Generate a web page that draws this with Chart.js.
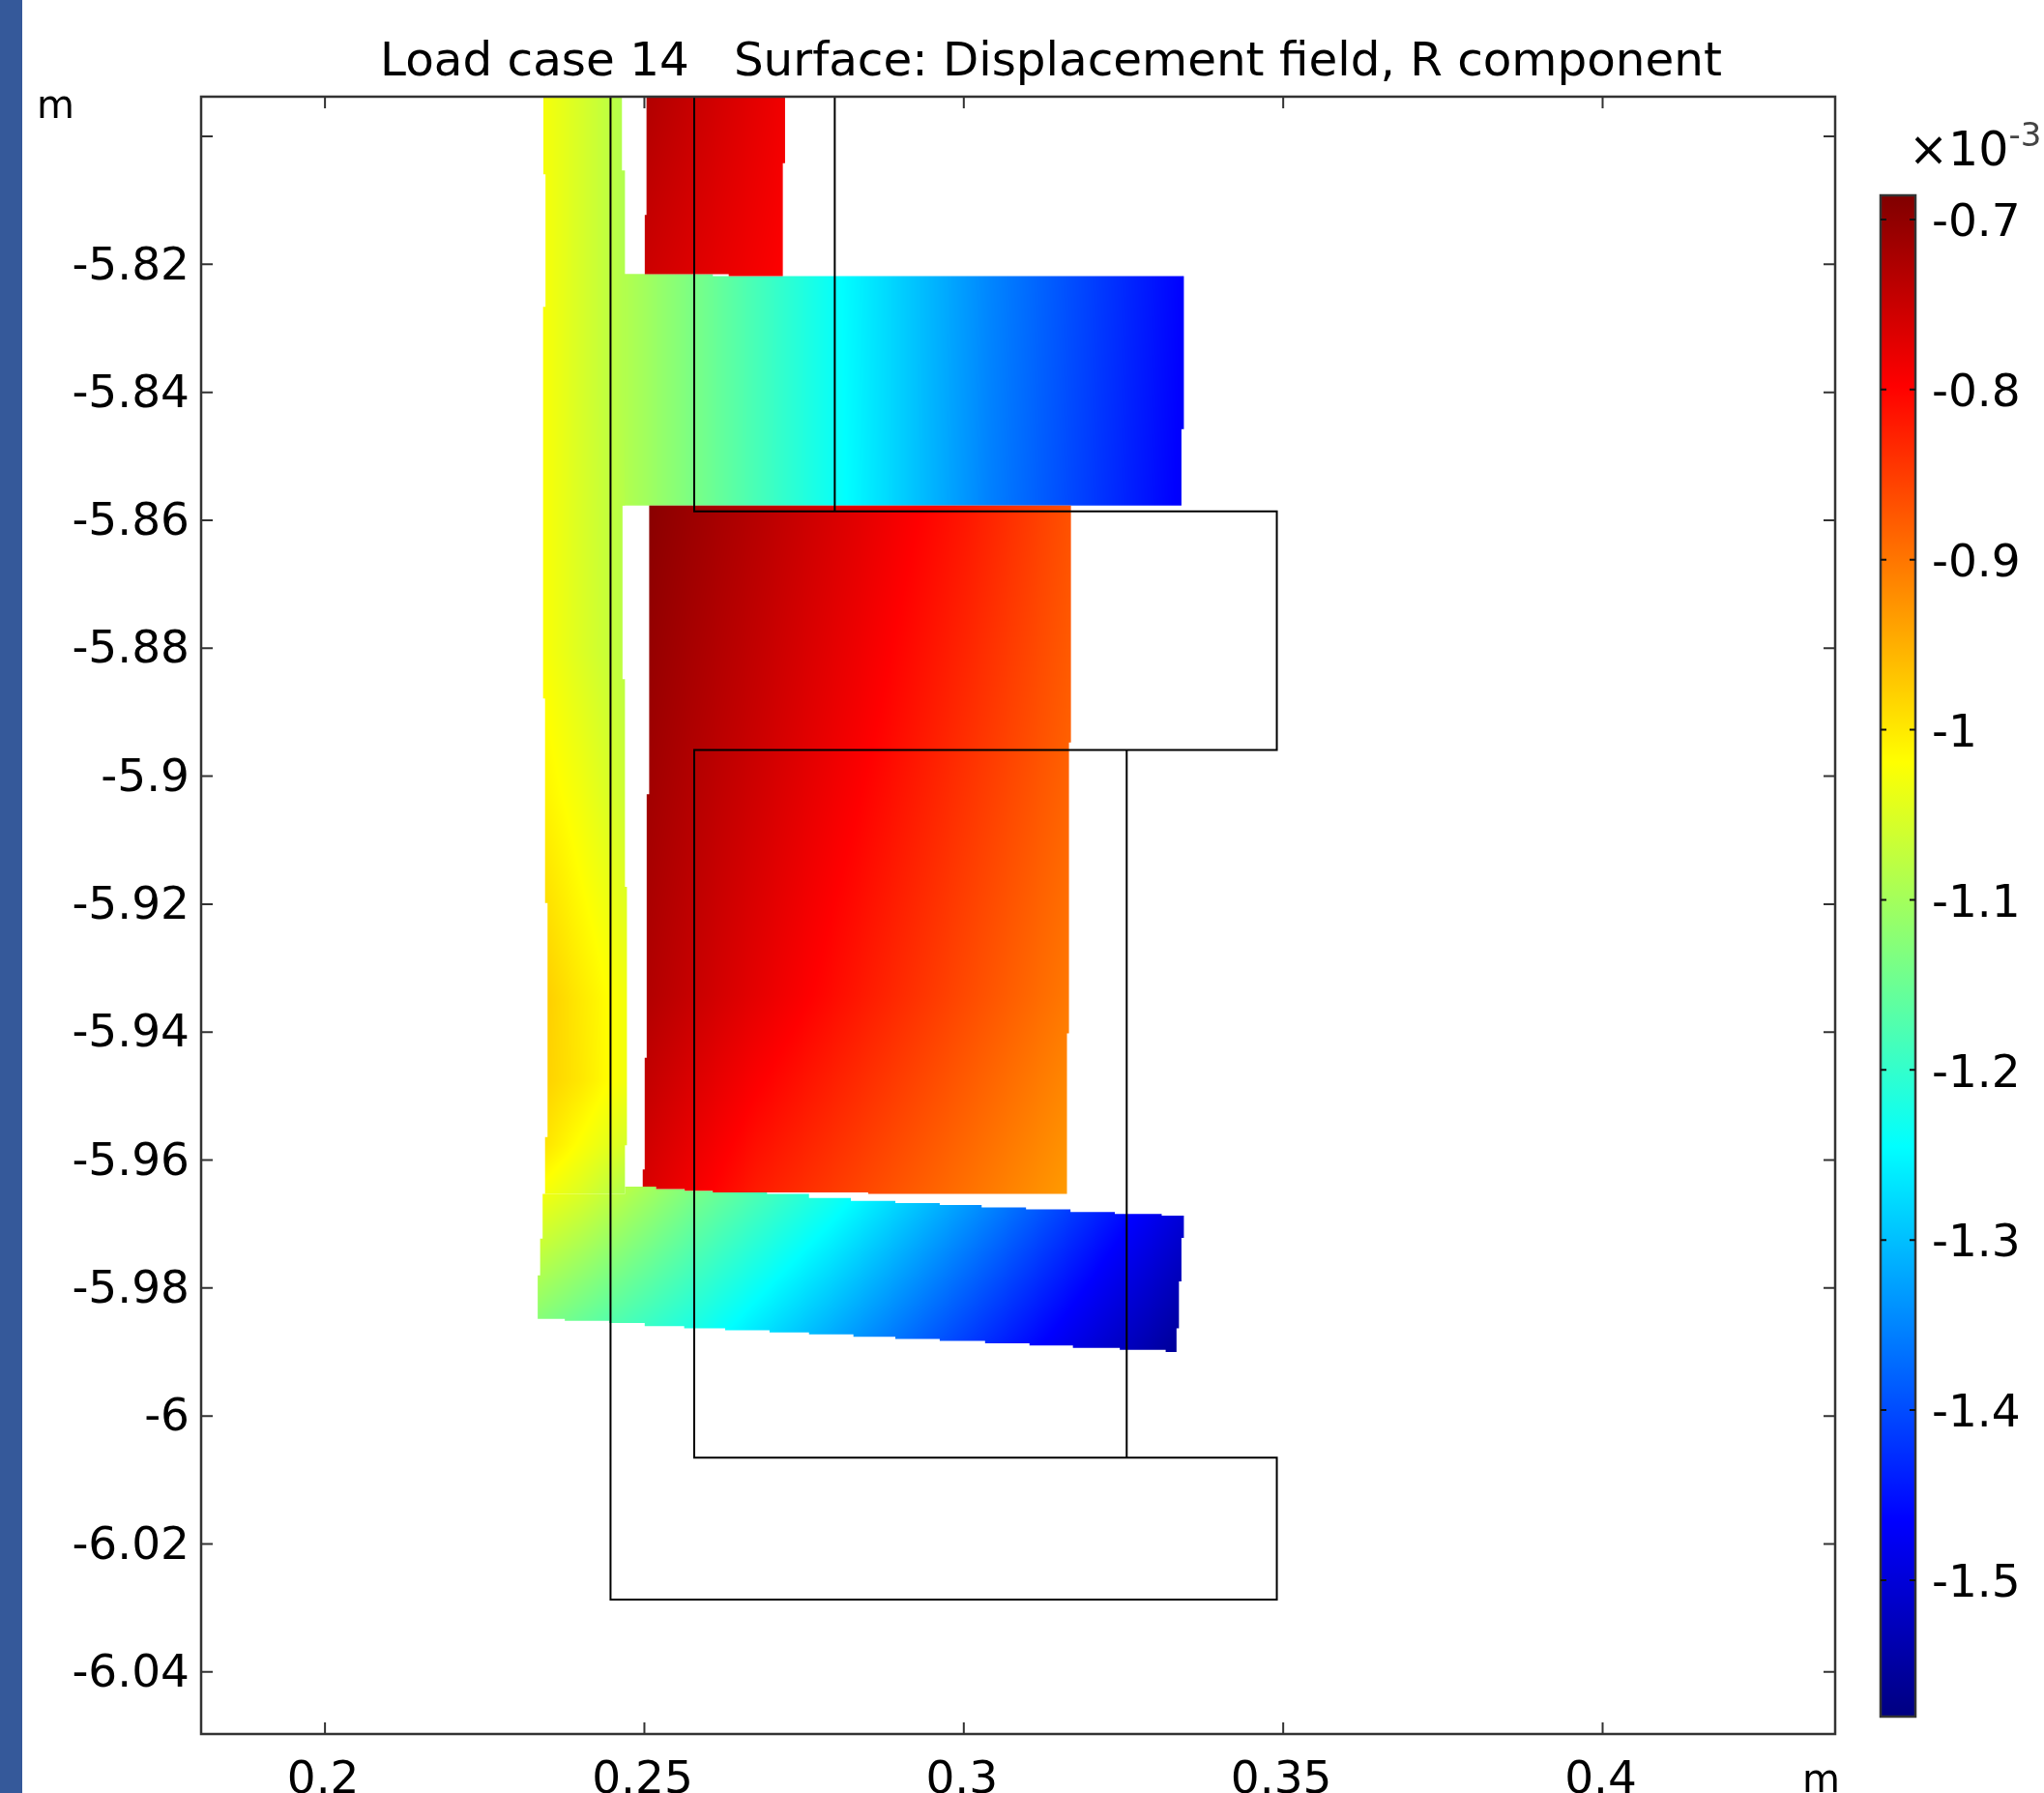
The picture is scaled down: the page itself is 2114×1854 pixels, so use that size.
<!DOCTYPE html>
<html>
<head>
<meta charset="utf-8">
<title>Load case 14</title>
<script src="https://cdn.jsdelivr.net/npm/chart.js@4"></script>
<style>
    html, body { margin: 0; padding: 0; background: #fff; overflow: hidden; }
    body { width: 2114px; height: 1854px; position: relative; font-family: "DejaVu Sans"; color: #000; }
    canvas { position: absolute; filter: blur(0.6px); }
    #sideBar { position: absolute; left: 0; top: 0; width: 23px; height: 1854px; background: #35599a; }
    .unit { position: absolute; line-height: 1; filter: blur(0.6px); }
    #exponent sup { font-size: 34px; color: #444; vertical-align: 20px; line-height: 0; }
</style>
</head>
<body>
<div id="sideBar"></div>
<canvas id="plot" width="2114" height="1854" style="left:0;top:0"></canvas>
<canvas id="legend" width="214" height="1704" style="left:1900px;top:150px"></canvas>
<div class="unit" style="left:38px;top:88px;font-size:40px">m</div>
<div class="unit" style="left:1864px;top:1819px;font-size:40px">m</div>
<div class="unit" id="exponent" style="left:1974px;top:130px;font-size:49px;white-space:nowrap">×10<sup>-3</sup></div>
<script>
    var chartTitle = 'Load case 14   Surface: Displacement field, R component';
    var xTicks = [0.2, 0.25, 0.3, 0.35, 0.4];
    var yTicks = [-5.8, -5.82, -5.84, -5.86, -5.88, -5.9, -5.92, -5.94, -5.96, -5.98, -6, -6.02, -6.04];
    var yTickLabels = ['', '-5.82', '-5.84', '-5.86', '-5.88', '-5.9', '-5.92', '-5.94', '-5.96', '-5.98', '-6', '-6.02', '-6.04'];
    var colorTicks = [-0.7, -0.8, -0.9, -1, -1.1, -1.2, -1.3, -1.4, -1.5];

    // colour table, values in 1e-3 m
    var colorStopValues = [-0.6858, -0.798, -1.019, -1.245, -1.465, -1.5802];
    var colorStopRgb = [[128, 0, 0], [255, 0, 0], [255, 255, 0], [0, 255, 255], [0, 0, 255], [0, 0, 128]];

    // undeformed geometry
    var undeformedOutline = [[0.2447, -5.7938], [0.2447, -6.0287], [0.349, -6.0287], [0.349, -6.0065], [0.2578, -6.0065], [0.2578, -5.8959], [0.349, -5.8959], [0.349, -5.8586], [0.2578, -5.8586], [0.2578, -5.7938]];
    var undeformedUpperEdge = [[0.2798, -5.7938], [0.2798, -5.8586]];
    var undeformedLowerEdge = [[0.3255, -5.8959], [0.3255, -6.0065]];

    // deformed parts: outline, then the R displacement read at grid nodes
    var columnOutline = [[0.23419, -5.79], [0.23419, -5.80595], [0.23452, -5.80595], [0.23452, -5.82665], [0.23414, -5.82665], [0.23414, -5.88785], [0.23445, -5.88785], [0.23445, -5.91982], [0.23484, -5.91982], [0.23484, -5.95639], [0.23445, -5.95639], [0.23445, -5.9653], [0.24696, -5.9653], [0.24696, -5.95767], [0.24727, -5.95767], [0.24727, -5.91728], [0.24696, -5.91728], [0.24696, -5.88482], [0.24658, -5.88482], [0.24658, -5.8577], [0.24696, -5.8577], [0.24696, -5.80534], [0.24649, -5.80534], [0.24649, -5.79]];
    var columnXs = [0.23325, 0.23998, 0.24712];
    var columnYs = [-5.79382, -5.83986, -5.8806, -5.9028, -5.91563, -5.93479, -5.94742, -5.9576, -5.96514];
    var columnValues = [
        [-1.023, -1.054, -1.089],
        [-1.019, -1.054, -1.089],
        [-1.019, -1.049, -1.08],
        [-1.005, -1.03, -1.065],
        [-0.99, -1.019, -1.05],
        [-0.97, -1, -1.03],
        [-0.975, -0.998, -1.03],
        [-0.99, -1.022, -1.055],
        [-1.022, -1.05, -1.09]
    ];

    var topBlockOutline = [[0.25033, -5.79], [0.25033, -5.81229], [0.25006, -5.81229], [0.25006, -5.82155], [0.2632, -5.82155], [0.2632, -5.82185], [0.27167, -5.82185], [0.27167, -5.80421], [0.27202, -5.80421], [0.27202, -5.79]];
    var topBlockXs = [0.24998, 0.27201];
    var topBlockYs = [-5.79382, -5.82194];
    var topBlockValues = [
        [-0.728, -0.786],
        [-0.753, -0.798]
    ];

    var upperFlangeOutline = [[0.2465, -5.82151], [0.26071, -5.82155], [0.26071, -5.82185], [0.33445, -5.82185], [0.33445, -5.84575], [0.33407, -5.84575], [0.33407, -5.8577], [0.2465, -5.8577]];
    var upperFlangeXs = [0.24631, 0.25773, 0.27976, 0.30424, 0.33423];
    var upperFlangeYs = [-5.82194, -5.85758];
    var upperFlangeValues = [
        [-1.084, -1.137, -1.24, -1.35, -1.465],
        [-1.084, -1.137, -1.236, -1.355, -1.47]
    ];

    var webOutline = [[0.25075, -5.8577], [0.25075, -5.90281], [0.25036, -5.90281], [0.25036, -5.94399], [0.25005, -5.94399], [0.25005, -5.96148], [0.24974, -5.96148], [0.24974, -5.96415], [0.25183, -5.96415], [0.25183, -5.96453], [0.25631, -5.96453], [0.25631, -5.96479], [0.26071, -5.96479], [0.26071, -5.96504], [0.28503, -5.96504], [0.28503, -5.9653], [0.31615, -5.9653], [0.31615, -5.94018], [0.31646, -5.94018], [0.31646, -5.89474], [0.31677, -5.89474], [0.31677, -5.8577]];
    var webXs = [0.24978, 0.26752, 0.28384, 0.30016, 0.31669];
    var webYs = [-5.85758, -5.89588, -5.93417, -5.96514];
    var webValues = [
        [-0.692, -0.733, -0.773, -0.816, -0.868],
        [-0.71, -0.752, -0.793, -0.838, -0.882],
        [-0.728, -0.775, -0.818, -0.861, -0.903],
        [-0.763, -0.821, -0.858, -0.895, -0.933]
    ];

    var lowerFlangeOutline = [[0.23407, -5.9653], [0.24696, -5.9653], [0.24696, -5.96415], [0.25183, -5.96415], [0.25183, -5.96453], [0.25631, -5.96453], [0.25631, -5.96479], [0.26264, -5.96479], [0.26264, -5.96504], [0.2692, -5.96504], [0.2692, -5.9653], [0.27577, -5.9653], [0.27577, -5.96593], [0.28233, -5.96593], [0.28233, -5.96638], [0.28928, -5.96638], [0.28928, -5.9667], [0.29623, -5.9667], [0.29623, -5.96701], [0.30279, -5.96701], [0.30279, -5.9674], [0.30974, -5.9674], [0.30974, -5.96771], [0.3167, -5.96771], [0.3167, -5.9681], [0.32364, -5.9681], [0.32364, -5.96841], [0.33098, -5.96841], [0.33098, -5.96867], [0.33445, -5.96867], [0.33445, -5.97217], [0.33407, -5.97217], [0.33407, -5.97897], [0.33368, -5.97897], [0.33368, -5.98629], [0.3333, -5.98629], [0.3333, -5.98998], [0.3316, -5.98998], [0.3316, -5.98966], [0.32442, -5.98966], [0.32442, -5.98934], [0.31708, -5.98934], [0.31708, -5.98896], [0.31028, -5.98896], [0.31028, -5.98864], [0.30333, -5.98864], [0.30333, -5.98826], [0.29623, -5.98826], [0.29623, -5.98794], [0.28928, -5.98794], [0.28928, -5.98762], [0.28272, -5.98762], [0.28272, -5.98724], [0.27577, -5.98724], [0.27577, -5.98692], [0.26959, -5.98692], [0.26959, -5.9866], [0.26264, -5.9866], [0.26264, -5.98629], [0.25623, -5.98629], [0.25623, -5.98597], [0.25005, -5.98597], [0.25005, -5.98546], [0.24449, -5.98546], [0.24449, -5.98514], [0.23754, -5.98514], [0.23754, -5.98482], [0.2333, -5.98482], [0.2333, -5.97802], [0.23368, -5.97802], [0.23368, -5.97229], [0.23407, -5.97229]];
    var lowerFlangeXs = [0.23325, 0.23998, 0.25773, 0.27976, 0.30424, 0.32546, 0.33423];
    var lowerFlangeYs = [-5.9631, -5.9906];
    var lowerFlangeValues = [
        [-1.015, -1.04, -1.129, -1.22, -1.336, -1.442, -1.486],
        [-1.153, -1.18, -1.239, -1.332, -1.437, -1.527, -1.564]
    ];

    var surfaces = [
        { outline: lowerFlangeOutline, xs: lowerFlangeXs, ys: lowerFlangeYs, values: lowerFlangeValues },
        { outline: upperFlangeOutline, xs: upperFlangeXs, ys: upperFlangeYs, values: upperFlangeValues },
        { outline: columnOutline, xs: columnXs, ys: columnYs, values: columnValues },
        { outline: topBlockOutline, xs: topBlockXs, ys: topBlockYs, values: topBlockValues },
        { outline: webOutline, xs: webXs, ys: webYs, values: webValues }
    ];

    var labelFont = { family: 'DejaVu Sans', size: 47 };

    function segment(list, v) {
        var i = 0;
        var t = 0;
        for (i = 0; i < list.length - 1; i++) {
            t = (v - list[i]) / (list[i + 1] - list[i]);
            if (t <= 1 || i === list.length - 2) break;
        }
        return { i: i, t: Math.max(0, Math.min(1, t)) };
    }

    function sampleField(surface, x, y) {
        var a = segment(surface.xs, x);
        var b = segment(surface.ys, y);
        var top = surface.values[b.i];
        var bottom = surface.values[b.i + 1];
        var v0 = top[a.i] + (top[a.i + 1] - top[a.i]) * a.t;
        var v1 = bottom[a.i] + (bottom[a.i + 1] - bottom[a.i]) * a.t;
        return v0 + (v1 - v0) * b.t;
    }

    function colorOf(v) {
        var s = segment(colorStopValues, v);
        var c0 = colorStopRgb[s.i];
        var c1 = colorStopRgb[s.i + 1];
        return [0, 1, 2].map(function(k) { return c0[k] + (c1[k] - c0[k]) * s.t; });
    }

    function drawSurface(chart, surface) {
        var ctx = chart.ctx;
        var xs = chart.scales.x;
        var ys = chart.scales.y;
        var px = surface.outline.map(function(p) { return xs.getPixelForValue(p[0]); });
        var py = surface.outline.map(function(p) { return ys.getPixelForValue(p[1]); });
        var left = Math.floor(Math.max(Math.min.apply(null, px), chart.chartArea.left)) - 1;
        var top = Math.floor(Math.max(Math.min.apply(null, py), chart.chartArea.top)) - 1;
        var w = Math.ceil(Math.max.apply(null, px)) - left + 2;
        var h = Math.ceil(Math.max.apply(null, py)) - top + 2;

        var buffer = document.createElement('canvas');
        buffer.width = w;
        buffer.height = h;
        var bctx = buffer.getContext('2d');
        var img = bctx.createImageData(w, h);
        for (var j = 0; j < h; j++) {
            var dy = ys.getValueForPixel(top + j + 0.5);
            for (var i = 0; i < w; i++) {
                var rgb = colorOf(sampleField(surface, xs.getValueForPixel(left + i + 0.5), dy));
                var o = (j * w + i) * 4;
                img.data[o] = rgb[0];
                img.data[o + 1] = rgb[1];
                img.data[o + 2] = rgb[2];
                img.data[o + 3] = 255;
            }
        }
        bctx.putImageData(img, 0, 0);

        ctx.save();
        ctx.beginPath();
        ctx.rect(chart.chartArea.left, chart.chartArea.top, chart.chartArea.width, chart.chartArea.height);
        ctx.clip();
        ctx.beginPath();
        px.forEach(function(p, k) {
            if (k === 0) ctx.moveTo(p, py[k]);
            else ctx.lineTo(p, py[k]);
        });
        ctx.closePath();
        ctx.clip();
        ctx.drawImage(buffer, left, top);
        ctx.restore();
    }

    function strokeFrame(ctx, area, color, width) {
        ctx.strokeStyle = color;
        ctx.lineWidth = width;
        ctx.strokeRect(area.left, area.top, area.right - area.left, area.bottom - area.top);
    }

    var surfacePlugin = {
        id: 'surfacePlugin',
        afterLayout: function(chart) {
            // the title sits off-centre over the plot
            chart.titleBlock.left = 276;
        },
        beforeDatasetsDraw: function(chart) {
            surfaces.forEach(function(surface) { drawSurface(chart, surface); });
        },
        afterDatasetsDraw: function(chart) {
            var ctx = chart.ctx;
            var a = chart.chartArea;
            ctx.save();
            strokeFrame(ctx, a, '#333', 2.5);
            ctx.strokeStyle = '#333';
            ctx.lineWidth = 2;
            ctx.beginPath();
            xTicks.forEach(function(v) {
                var p = chart.scales.x.getPixelForValue(v);
                ctx.moveTo(p, a.top); ctx.lineTo(p, a.top + 12);
                ctx.moveTo(p, a.bottom); ctx.lineTo(p, a.bottom - 12);
            });
            yTicks.forEach(function(v) {
                var p = chart.scales.y.getPixelForValue(v);
                ctx.moveTo(a.left, p); ctx.lineTo(a.left + 12, p);
                ctx.moveTo(a.right, p); ctx.lineTo(a.right - 12, p);
            });
            ctx.stroke();
            ctx.restore();
        }
    };

    var legendPlugin = {
        id: 'legendPlugin',
        afterDatasetsDraw: function(chart) {
            var ctx = chart.ctx;
            var a = chart.chartArea;
            ctx.save();
            strokeFrame(ctx, a, '#333', 2.5);
            ctx.strokeStyle = '#111';
            ctx.lineWidth = 2;
            ctx.beginPath();
            colorTicks.forEach(function(v) {
                var p = chart.scales.y.getPixelForValue(v);
                ctx.moveTo(a.left, p); ctx.lineTo(a.left + 6, p);
                ctx.moveTo(a.right, p); ctx.lineTo(a.right - 6, p);
            });
            ctx.stroke();
            ctx.restore();
        }
    };

    function lineSet(data) {
        return { data: data, showLine: true, pointRadius: 0, borderColor: '#000', borderWidth: 2, fill: false };
    }

    var plotChart = new Chart(document.getElementById('plot').getContext('2d'), {
        type: 'scatter',
        data: {
            datasets: [lineSet(undeformedOutline), lineSet(undeformedUpperEdge), lineSet(undeformedLowerEdge)]
        },
        options: {
            responsive: false,
            animation: false,
            layout: { padding: { left: 24, right: 216, top: 0, bottom: 0 } },
            plugins: {
                legend: { display: false },
                tooltip: { enabled: false },
                title: {
                    display: true,
                    text: chartTitle,
                    color: '#000',
                    font: { family: 'DejaVu Sans', size: 48.4, weight: 'normal', lineHeight: 1.2 },
                    padding: { top: 36, bottom: 5.9 }
                }
            },
            scales: {
                x: {
                    type: 'linear',
                    min: 0.18061,
                    max: 0.4364,
                    afterBuildTicks: function(scale) {
                        scale.ticks = xTicks.map(function(v) { return { value: v }; });
                    },
                    afterFit: function(scale) { scale.height = 61; },
                    grid: { display: false },
                    border: { display: false },
                    ticks: {
                        color: '#000',
                        font: labelFont,
                        maxRotation: 0,
                        autoSkip: false,
                        padding: 13,
                        labelOffset: -2,
                        callback: function(value) { return String(value); }
                    }
                },
                y: {
                    type: 'linear',
                    min: -6.0497,
                    max: -5.7938,
                    afterBuildTicks: function(scale) {
                        scale.ticks = yTicks.map(function(v) { return { value: v }; });
                    },
                    afterFit: function(scale) { scale.width = 184; },
                    grid: { display: false },
                    border: { display: false },
                    ticks: {
                        color: '#000',
                        font: labelFont,
                        autoSkip: false,
                        padding: 4,
                        labelOffset: 3,
                        callback: function(value, index) { return yTickLabels[index]; }
                    }
                }
            }
        },
        plugins: [surfacePlugin]
    });

    var legendChart = new Chart(document.getElementById('legend').getContext('2d'), {
        type: 'bar',
        data: {
            labels: ['R'],
            datasets: [{
                data: [[colorStopValues[colorStopValues.length - 1], colorStopValues[0]]],
                barPercentage: 1,
                categoryPercentage: 1,
                backgroundColor: function(context) {
                    var chart = context.chart;
                    if (!chart.chartArea) return '#f00';
                    var y = chart.scales.y;
                    var g = chart.ctx.createLinearGradient(0, chart.chartArea.top, 0, chart.chartArea.bottom);
                    colorStopValues.forEach(function(v, i) {
                        var pos = (y.getPixelForValue(v) - chart.chartArea.top) / chart.chartArea.height;
                        g.addColorStop(Math.max(0, Math.min(1, pos)), 'rgb(' + colorStopRgb[i].join(',') + ')');
                    });
                    return g;
                }
            }]
        },
        options: {
            responsive: false,
            animation: false,
            layout: { padding: { left: 45, right: 0, top: 52, bottom: 79 } },
            plugins: { legend: { display: false }, tooltip: { enabled: false } },
            scales: {
                x: { display: false },
                y: {
                    position: 'right',
                    min: -1.5802,
                    max: -0.6858,
                    afterBuildTicks: function(scale) {
                        scale.ticks = colorTicks.map(function(v) { return { value: v }; });
                    },
                    afterFit: function(scale) { scale.width = 133; },
                    grid: { display: false },
                    border: { display: false },
                    ticks: {
                        color: '#000',
                        font: labelFont,
                        autoSkip: false,
                        padding: 9,
                        labelOffset: 5,
                        callback: function(value) { return String(value); }
                    }
                }
            }
        },
        plugins: [legendPlugin]
    });
</script>
</body>
</html>
